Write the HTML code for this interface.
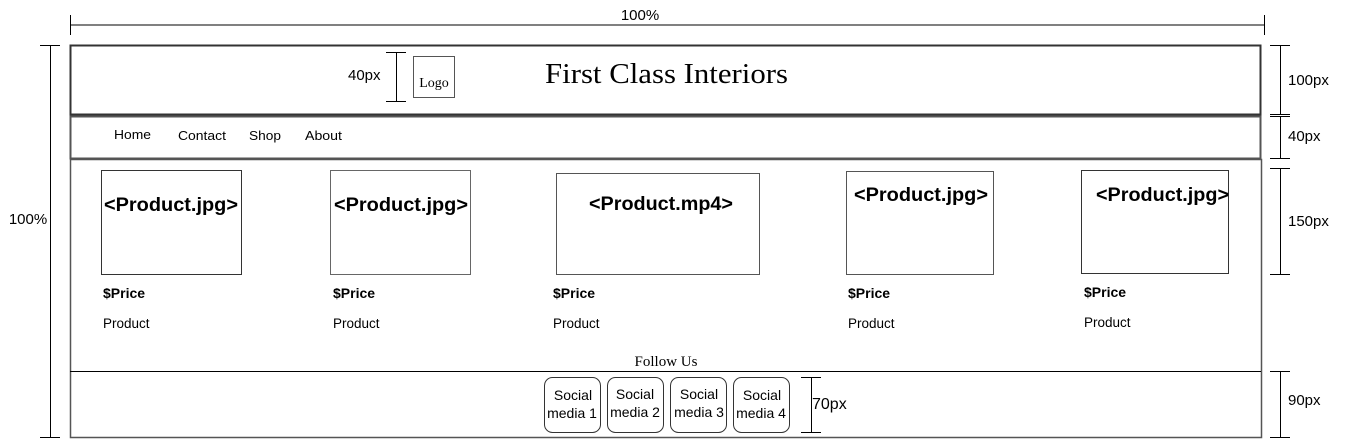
<!DOCTYPE html>
<html><head><meta charset="utf-8"><style>
html,body{margin:0;padding:0;background:#fff;width:1347px;height:440px;overflow:hidden}
svg text{font-family:"Liberation Sans",Arial,sans-serif;fill:#000}
.s{font-family:"Liberation Serif","Times New Roman",serif}
</style></head><body>
<svg width="1347" height="440" xmlns="http://www.w3.org/2000/svg">
<g stroke="#000" stroke-width="1" fill="none">
<line x1="70" y1="25" x2="1264" y2="25"/>
<line x1="70.5" y1="15" x2="70.5" y2="35"/>
<line x1="1264.5" y1="15" x2="1264.5" y2="35"/>
<line x1="50.5" y1="45" x2="50.5" y2="437"/>
<line x1="40" y1="45.5" x2="60" y2="45.5"/>
<line x1="40" y1="437.5" x2="60" y2="437.5"/>
<line x1="1280.5" y1="45" x2="1280.5" y2="114"/>
<line x1="1270" y1="45.5" x2="1290" y2="45.5"/>
<line x1="1270" y1="114.5" x2="1290" y2="114.5"/>
<line x1="1280.5" y1="116" x2="1280.5" y2="158"/>
<line x1="1270" y1="116.5" x2="1290" y2="116.5"/>
<line x1="1270" y1="158.5" x2="1290" y2="158.5"/>
<line x1="1280.5" y1="168" x2="1280.5" y2="274"/>
<line x1="1270" y1="168.5" x2="1290" y2="168.5"/>
<line x1="1270" y1="274.5" x2="1290" y2="274.5"/>
<line x1="1280.5" y1="371" x2="1280.5" y2="437"/>
<line x1="1270" y1="371.5" x2="1290" y2="371.5"/>
<line x1="1270" y1="437.5" x2="1290" y2="437.5"/>
<line x1="396.5" y1="52" x2="396.5" y2="101"/>
<line x1="386" y1="52.5" x2="406" y2="52.5"/>
<line x1="386" y1="101.5" x2="406" y2="101.5"/>
<line x1="811.5" y1="377" x2="811.5" y2="432"/>
<line x1="801" y1="377.5" x2="821" y2="377.5"/>
<line x1="801" y1="432.5" x2="821" y2="432.5"/>
</g>
<g fill="none">
<rect x="70.5" y="45.5" width="1190" height="69" stroke="#333" stroke-width="2"/>
<rect x="70.5" y="116.5" width="1190" height="42" stroke="#555" stroke-width="2"/>
<rect x="70.5" y="159.5" width="1191" height="278" stroke="#555" stroke-width="1.5"/>
<line x1="70" y1="371.5" x2="1261" y2="371.5" stroke="#000"/>
<rect x="413.5" y="56.5" width="41" height="41" stroke="#555"/>
<rect x="101.5" y="170.5" width="140" height="104" stroke="#333"/>
<rect x="330.5" y="170.5" width="140" height="104" stroke="#666"/>
<rect x="556.5" y="173.5" width="203" height="101" stroke="#555"/>
<rect x="846.5" y="171.5" width="147" height="103" stroke="#555"/>
<rect x="1081.5" y="170.5" width="147" height="103" stroke="#333"/>
<rect x="544.5" y="377.5" width="56" height="55" rx="8" stroke="#333"/>
<rect x="607.5" y="377.5" width="56" height="55" rx="8" stroke="#333"/>
<rect x="670.5" y="377.5" width="56" height="55" rx="8" stroke="#333"/>
<rect x="733.5" y="377.5" width="56" height="55" rx="8" stroke="#333"/>
</g>
<text x="640" y="20" font-size="15" text-anchor="middle">100%</text>
<text x="28" y="224" font-size="15" text-anchor="middle">100%</text>
<text x="1288" y="85" font-size="15">100px</text>
<text x="1288" y="141" font-size="15">40px</text>
<text x="1288" y="226" font-size="15">150px</text>
<text x="1288" y="405" font-size="15">90px</text>
<text x="348" y="80" font-size="15">40px</text>
<text x="812" y="409" font-size="16">70px</text>
<text class="s" x="434" y="87" font-size="14" text-anchor="middle">Logo</text>
<text class="s" x="545" y="83" font-size="29" textLength="243" lengthAdjust="spacingAndGlyphs">First Class Interiors</text>
<text x="114" y="139" font-size="13" fill="#222" textLength="37" lengthAdjust="spacingAndGlyphs">Home</text>
<text x="178" y="140" font-size="13" textLength="48" lengthAdjust="spacingAndGlyphs">Contact</text>
<text x="249" y="140" font-size="13" textLength="32" lengthAdjust="spacingAndGlyphs">Shop</text>
<text x="305" y="140" font-size="13" textLength="37" lengthAdjust="spacingAndGlyphs">About</text>
<g font-size="19" font-weight="bold" lengthAdjust="spacingAndGlyphs">
<text x="104" y="211" textLength="134" lengthAdjust="spacingAndGlyphs">&lt;Product.jpg&gt;</text>
<text x="334" y="211" textLength="134" lengthAdjust="spacingAndGlyphs">&lt;Product.jpg&gt;</text>
<text x="589" y="210" textLength="144" lengthAdjust="spacingAndGlyphs">&lt;Product.mp4&gt;</text>
<text x="854" y="201" textLength="134" lengthAdjust="spacingAndGlyphs">&lt;Product.jpg&gt;</text>
<text x="1096" y="201" textLength="133" lengthAdjust="spacingAndGlyphs">&lt;Product.jpg&gt;</text>
</g>
<g font-size="14" font-weight="bold">
<text x="103" y="298">$Price</text>
<text x="333" y="298">$Price</text>
<text x="553" y="298">$Price</text>
<text x="848" y="298">$Price</text>
<text x="1084" y="297">$Price</text>
</g>
<g font-size="13.5" fill="#333">
<text x="103" y="328">Product</text>
<text x="333" y="328">Product</text>
<text x="553" y="328">Product</text>
<text x="848" y="328">Product</text>
<text x="1084" y="327">Product</text>
</g>
<text class="s" x="666" y="366" font-size="15" text-anchor="middle">Follow Us</text>
<g font-size="14" text-anchor="middle">
<text x="573" y="400">Social</text><text x="572" y="418">media 1</text>
<text x="635" y="399">Social</text><text x="635" y="417">media 2</text>
<text x="699" y="399">Social</text><text x="699" y="417">media 3</text>
<text x="762" y="400">Social</text><text x="761" y="418">media 4</text>
</g>
</svg>
</body></html>
